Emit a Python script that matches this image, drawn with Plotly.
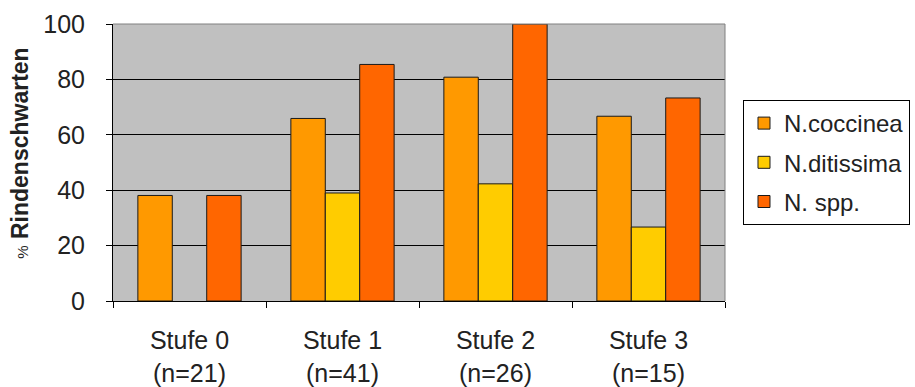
import plotly.graph_objects as go

# Schadstufen (Kategorien) und Stichprobengrößen
stufen = ["Stufe 0", "Stufe 1", "Stufe 2", "Stufe 3"]
n_werte = [21, 41, 26, 15]

# Anteil Rindenschwarten mit Befall (%) je Erreger
coccinea = [38.1, 65.9, 80.8, 66.7]
ditissima = [None, 39.0, 42.3, 26.7]
spp = [38.1, 85.4, 100.0, 73.3]

kategorien = [f"{s}<br>(n={n})" for s, n in zip(stufen, n_werte)]

FONT = "Arial, Liberation Sans, sans-serif"
umriss = dict(color="#1a1a1a", width=1)

fig = go.Figure()
for name, werte, farbe in [
    ("N.coccinea", coccinea, "#FF9900"),
    ("N.ditissima", ditissima, "#FFCC00"),
    ("N. spp.", spp, "#FF6600"),
]:
    fig.add_trace(go.Bar(
        x=kategorien, y=werte, name=name, legendgroup=name,
        marker=dict(color=farbe, line=umriss),
    ))

fig.update_layout(
    width=915, height=387,
    margin=dict(l=113, r=190, t=24, b=86, autoexpand=False),
    paper_bgcolor="white",
    plot_bgcolor="#C0C0C0",
    barmode="group",
    bargap=0.325,
    bargroupgap=0,
    font=dict(family=FONT, size=25, color="#222"),
    showlegend=True,
    legend=dict(
        x=1.0294, y=0.7256, xanchor="left", yanchor="top",
        bgcolor="white", bordercolor="#000", borderwidth=1,
        font=dict(family=FONT, size=24, color="#222"),
        traceorder="grouped", tracegroupgap=5,
    ),
    xaxis=dict(
        type="category", automargin=False,
        showline=True, linecolor="#000", linewidth=1,
        ticks="outside", tickson="boundaries", ticklen=6,
        tickcolor="#000", tickwidth=1,
        showgrid=False,
        ticklabelstandoff=17,
        tickfont=dict(family=FONT, size=25, color="#222"),
    ),
    yaxis=dict(
        range=[0, 100], tickvals=[0, 20, 40, 60, 80, 100], automargin=False,
        showline=True, linecolor="#000", linewidth=1,
        ticks="outside", ticklen=6, tickcolor="#000", tickwidth=1,
        showgrid=True, gridcolor="#000", gridwidth=1,
        zeroline=False,
        ticklabelstandoff=16,
        tickfont=dict(family=FONT, size=25, color="#222"),
    ),
    shapes=[
        dict(type="line", xref="paper", yref="paper", x0=0, x1=1, y0=1, y1=1,
             line=dict(color="#808080", width=1)),
        dict(type="line", xref="paper", yref="paper", x0=1, x1=1, y0=0, y1=1,
             line=dict(color="#808080", width=1)),
    ],
    annotations=[
        dict(
            text="<span style='font-size:15px;font-weight:normal'>%</span> <b>Rindenschwarten</b>",
            xref="paper", yref="paper", x=-0.152, y=0.535,
            textangle=-90, showarrow=False,
            font=dict(family=FONT, size=23, color="#222"),
            xanchor="center", yanchor="middle",
        )
    ],
)

fig.write_html("out.html")
